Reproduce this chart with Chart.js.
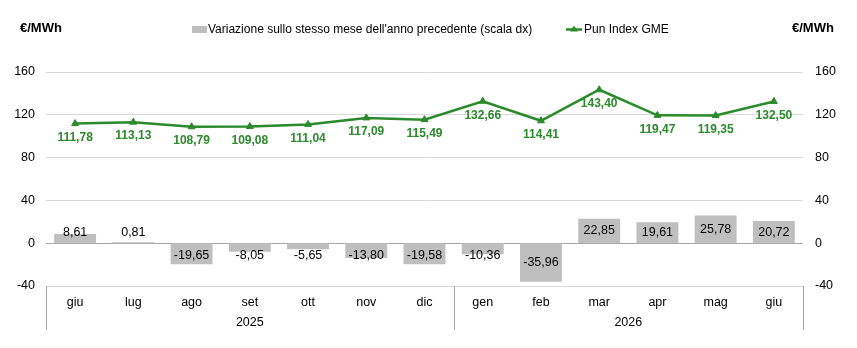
<!DOCTYPE html>
<html>
<head>
<meta charset="utf-8">
<script src="https://cdn.jsdelivr.net/npm/chart.js@4.4.1/dist/chart.umd.min.js"></script>
<style>
  html, body { margin: 0; padding: 0; background: #fff; }
</style>
</head>
<body>
<canvas id="chart" width="857" height="348"></canvas>
<script>
// Data
const months = ['giu', 'lug', 'ago', 'set', 'ott', 'nov', 'dic', 'gen', 'feb', 'mar', 'apr', 'mag', 'giu'];
const years = ['2025', '2026'];
const yearSpans = [7, 6]; // number of months under each year
const variazione = [8.61, 0.81, -19.65, -8.05, -5.65, -13.80, -19.58, -10.36, -35.96, 22.85, 19.61, 25.78, 20.72];
const punIndex = [111.78, 113.13, 108.79, 109.08, 111.04, 117.09, 115.49, 132.66, 114.41, 143.40, 119.47, 119.35, 132.50];
const yMin = -40;
const yMax = 160;
const yStep = 40;

const FONT = 'Liberation Sans, Arial, sans-serif';
const GREEN = '#2b8a2b';
const GREY_BAR = '#bfbfbf';

function fmt(v) {
  return v.toFixed(2).replace('.', ',');
}

// Labels, separators, titles and legend
const extrasPlugin = {
  id: 'extras',
  afterDatasetsDraw(chart) {
    const ctx = chart.ctx;
    const y2 = chart.scales.y2;
    const zeroY = y2.getPixelForValue(0);

    // bar value labels
    const barMeta = chart.getDatasetMeta(0);
    ctx.save();
    ctx.font = '12.5px ' + FONT;
    ctx.fillStyle = '#000';
    ctx.textAlign = 'center';
    ctx.textBaseline = 'middle';
    barMeta.data.forEach((bar, i) => {
      const v = variazione[i];
      let cy = (bar.y + zeroY) / 2;
      if (v >= 0 && zeroY - cy < 11) cy = zeroY - 11;
      if (v < 0 && cy - zeroY < 12) cy = zeroY + 12;
      ctx.fillText(fmt(v), bar.x, cy);
    });

    // line value labels
    const lineMeta = chart.getDatasetMeta(1);
    ctx.font = 'bold 12px ' + FONT;
    ctx.fillStyle = GREEN;
    lineMeta.data.forEach((pt, i) => {
      ctx.fillText(fmt(punIndex[i]), pt.x, pt.y + 14);
    });
    ctx.restore();
  },
  afterDraw(chart) {
    const ctx = chart.ctx;
    const x = chart.scales.x;
    const area = chart.chartArea;
    ctx.save();

    // year group separators
    const seps = [x.left];
    let idx = 0;
    yearSpans.forEach(n => {
      idx += n;
      if (idx < months.length) {
        seps.push((x.getPixelForValue(idx - 1) + x.getPixelForValue(idx)) / 2);
      } else {
        seps.push(x.right);
      }
    });
    ctx.strokeStyle = '#a6a6a6';
    ctx.lineWidth = 1;
    seps.forEach(sx => {
      ctx.beginPath();
      ctx.moveTo(Math.round(sx) + 0.5, area.bottom);
      ctx.lineTo(Math.round(sx) + 0.5, 330);
      ctx.stroke();
    });

    // year labels
    ctx.font = '12.5px ' + FONT;
    ctx.fillStyle = '#000';
    ctx.textAlign = 'center';
    ctx.textBaseline = 'middle';
    years.forEach((yr, i) => {
      ctx.fillText(yr, (seps[i] + seps[i + 1]) / 2, 323);
    });

    // unit titles
    ctx.font = 'bold 13px ' + FONT;
    ctx.textAlign = 'left';
    ctx.fillText('€/MWh', 20, 28);
    ctx.fillText('€/MWh', 792, 28);

    // legend
    ctx.font = '12px ' + FONT;
    ctx.fillStyle = GREY_BAR;
    ctx.fillRect(192, 26, 15, 7);
    ctx.fillStyle = '#000';
    ctx.fillText(chart.data.datasets[0].label, 208, 30);

    ctx.strokeStyle = GREEN;
    ctx.lineWidth = 2.5;
    ctx.beginPath();
    ctx.moveTo(566, 29.5);
    ctx.lineTo(582, 29.5);
    ctx.stroke();
    ctx.fillStyle = GREEN;
    ctx.beginPath();
    ctx.moveTo(574, 25.5);
    ctx.lineTo(578, 31.5);
    ctx.lineTo(570, 31.5);
    ctx.closePath();
    ctx.fill();
    ctx.fillStyle = '#000';
    ctx.fillText(chart.data.datasets[1].label, 584, 30);

    ctx.restore();
  }
};

new Chart(document.getElementById('chart'), {
  data: {
    labels: months,
    datasets: [
      {
        type: 'bar',
        label: 'Variazione sullo stesso mese dell\'anno precedente (scala dx)',
        data: variazione,
        yAxisID: 'y2',
        backgroundColor: GREY_BAR,
        barPercentage: 0.72,
        categoryPercentage: 1,
        order: 2
      },
      {
        type: 'line',
        label: 'Pun Index GME',
        data: punIndex,
        yAxisID: 'y',
        borderColor: GREEN,
        borderWidth: 2.5,
        backgroundColor: GREEN,
        pointStyle: 'triangle',
        pointRadius: 4,
        pointBackgroundColor: GREEN,
        pointBorderColor: GREEN,
        pointBorderWidth: 1,
        tension: 0,
        order: 1
      }
    ]
  },
  options: {
    responsive: false,
    animation: false,
    devicePixelRatio: 1,
    layout: {
      padding: { top: 72, left: 0, right: 0, bottom: 0 }
    },
    plugins: {
      legend: { display: false },
      tooltip: { enabled: false }
    },
    scales: {
      x: {
        grid: { display: false },
        border: { display: false },
        ticks: {
          color: '#000',
          font: { family: FONT, size: 12.5 },
          padding: 1,
          maxRotation: 0,
          autoSkip: false
        },
        afterFit: scale => { scale.height = 62; }
      },
      y: {
        position: 'left',
        min: yMin,
        max: yMax,
        grid: {
          drawTicks: false,
          color: ctx => (ctx.tick && ctx.tick.value === 0) ? '#a6a6a6' : '#d9d9d9'
        },
        border: { display: false },
        ticks: {
          stepSize: yStep,
          color: '#000',
          font: { family: FONT, size: 12.5 },
          padding: 11
        },
        afterFit: scale => { scale.width = 46; }
      },
      y2: {
        position: 'right',
        min: yMin,
        max: yMax,
        grid: { display: false, drawTicks: false },
        border: { display: false },
        ticks: {
          stepSize: yStep,
          color: '#000',
          font: { family: FONT, size: 12.5 },
          padding: 12
        },
        afterFit: scale => { scale.width = 54; }
      }
    }
  },
  plugins: [extrasPlugin]
});
</script>
</body>
</html>
